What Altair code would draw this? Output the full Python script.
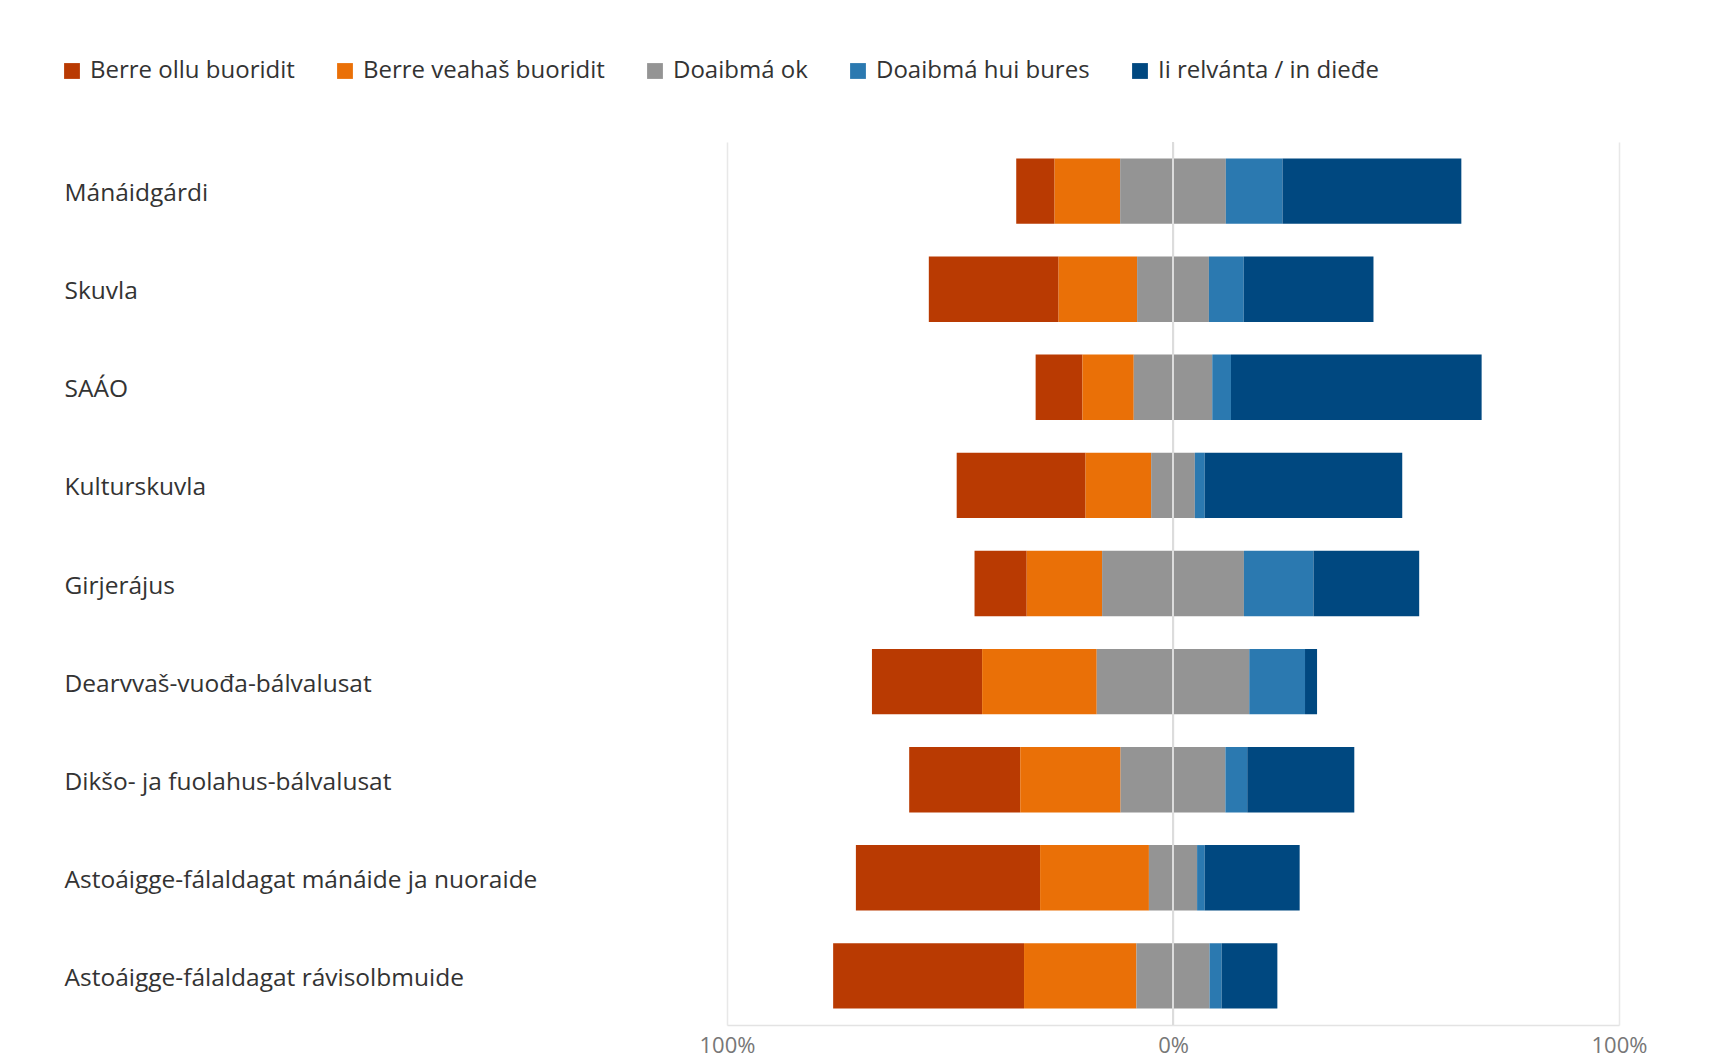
import altair as alt
import pandas as pd

categories = [
    "Mánáidgárdi",
    "Skuvla",
    "SAÁO",
    "Kulturskuvla",
    "Girjerájus",
    "Dearvvaš-vuođa-bálvalusat",
    "Dikšo- ja fuolahus-bálvalusat",
    "Astoáigge-fálaldagat mánáide ja nuoraide",
    "Astoáigge-fálaldagat rávisolbmuide",
]
series = [
    "Berre ollu buoridit",
    "Berre veahaš buoridit",
    "Doaibmá ok",
    "Doaibmá hui bures",
    "Ii relvánta / in dieđe",
]
colors = ["#B93A02", "#EA7007", "#949494", "#2B79B0", "#004880"]

berre_ollu = [8.6, 29.1, 10.5, 28.9, 11.7, 24.7, 24.9, 41.3, 42.8]
berre_veahas = [14.7, 17.6, 11.5, 14.7, 16.9, 25.7, 22.5, 24.4, 25.2]
doaibma_ok = [23.7, 16.1, 17.6, 9.8, 31.8, 34.2, 23.5, 10.8, 16.4]
doaibma_hui = [12.7, 7.8, 4.2, 2.2, 15.6, 12.5, 4.9, 1.7, 2.7]
ii_relvanta = [40.1, 29.1, 56.2, 44.3, 23.7, 2.7, 24.0, 21.3, 12.5]

rows = []
for i, c in enumerate(categories):
    vals = [berre_ollu[i], berre_veahas[i], doaibma_ok[i], doaibma_hui[i], ii_relvanta[i]]
    pos = -(vals[0] + vals[1] + vals[2] / 2)
    for k, (s, v) in enumerate(zip(series, vals)):
        rows.append(dict(category=c, series=s, order=k, x=pos, x2=pos + v, value=v))
        pos += v
df = pd.DataFrame(rows)

FONT = "Open Sans"
FS = 24.5

bars = alt.Chart(df).mark_bar().encode(
    y=alt.Y(
        "category:N",
        sort=categories,
        scale=alt.Scale(paddingInner=0.333, paddingOuter=0.167),
        axis=alt.Axis(
            title=None,
            labelAlign="left",
            labelBaseline="middle",
            labelPadding=663,
            labelOffset=3,
            ticks=False,
            tickSize=0,
            domain=False,
            labelFontSize=FS,
            labelColor="#333333",
            labelFont=FONT,
            labelLimit=700,
        ),
    ),
    x=alt.X(
        "x:Q",
        scale=alt.Scale(domain=[-100, 100], nice=False),
        axis=alt.Axis(
            title=None,
            values=[-100, 0, 100],
            labelExpr="abs(datum.value) + '%'",
            labelFlush=False,
            grid=True,
            gridColor="#e8e8e8",
            gridWidth=1.5,
            ticks=False,
            tickSize=0,
            domain=True,
            domainColor="#e3e3e3",
            domainWidth=1.5,
            labelPadding=10,
            labelFontSize=22,
            labelColor="#777777",
            labelFont=FONT,
        ),
    ),
    x2="x2:Q",
    color=alt.Color(
        "series:N",
        scale=alt.Scale(domain=series, range=colors),
        legend=alt.Legend(
            title=None,
            orient="none",
            direction="horizontal",
            legendX=-667,
            legendY=-83,
            symbolType="square",
            symbolSize=250,
            symbolStrokeWidth=0,
            labelFontSize=24,
            labelFont=FONT,
            labelColor="#333333",
            labelLimit=600,
            columnPadding=38,
            labelOffset=6,
        ),
    ),
    order=alt.Order("order:Q"),
)

zero = alt.Chart(pd.DataFrame({"x": [0]})).mark_rule(color="#dcdcdc", strokeWidth=2).encode(x="x:Q")

chart = alt.layer(bars, zero).properties(
    width=892,
    height=883,
    padding={"left": 719, "top": 134, "right": 60, "bottom": 40},
    autosize=alt.AutoSizeParams(type="none"),
).configure(font=FONT).configure_view(strokeWidth=0)

chart.save("out.html", embed_options={"renderer": "svg", "actions": False})
